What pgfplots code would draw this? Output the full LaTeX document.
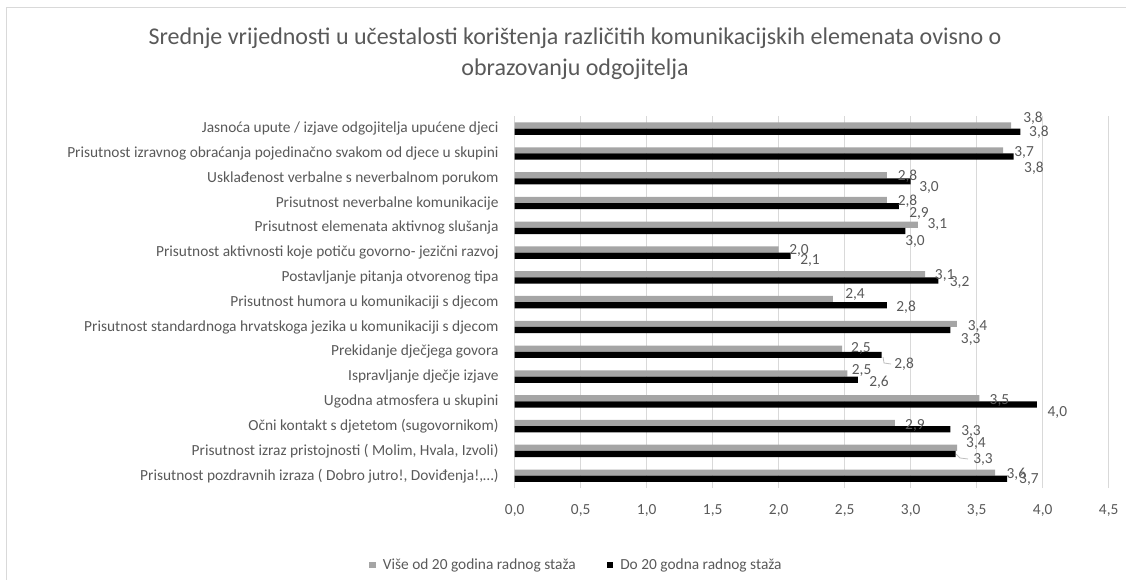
\documentclass[border=0pt]{standalone}
\usepackage{fontspec}
\setmainfont{Carlito}
\usepackage{pgfplots}
\pgfplotsset{compat=1.18}
\usepackage{pgfplotstable}

\definecolor{txt}{HTML}{595959}
\definecolor{barg}{HTML}{A5A5A5}
\definecolor{gridc}{HTML}{D9D9D9}

% y: 14 = top category ... 0 = bottom; dx, dy = label offset (pt)
\pgfplotstableread{
y  v     dx    dy
14 3.76  22.0  7.6
13 3.70  21.0  -2.1
12 2.82  20.6  -0.8
11 2.82  20.6  -1.0
10 3.055 19.4  -0.2
9  2.00  20.3  -1.4
8  3.11  19.5  -0.7
7  2.41  22.2  4.4
6  3.35  20.6  -2.8
5  2.48  18.9  -0.3
4  2.52  14.3  3.0
3  3.52  20.1  -2.2
2  2.88  20.1  -2.4
1  3.352 18.8  4.0
0  3.64  21.2  -1.4
}\vise

\pgfplotstableread{
y  v     dx    dy
14 3.83  18.7  -0.2
13 3.78  20.3  -11.4
12 3.00  18.3  -6.6
11 2.91  20.2  -7.8
10 2.96  9.6   -11.0
9  2.09  19.4  -5.2
8  3.21  21.2  -1.8
7  2.82  19.2  -1.7
6  3.30  20.4  -9.9
5  2.78  22.5  -8.9
4  2.60  21.1  -2.3
3  3.955 20.6  -8.5
2  3.30  20.7  -2.4
1  3.34  27.4  -5.0
0  3.73  21.9  -0.2
}\dodvadeset

\begin{document}
\begin{tikzpicture}[x=1pt,y=1pt]
\useasboundingbox (0,0) rectangle (1126,580);
\draw[gridc, line width=1pt] (6,0) -- (6,572) -- (1126,572);
\node[text=txt, font=\fontsize{24}{28}\selectfont, anchor=base] at (575,535)
  {Srednje vrijednosti u učestalosti korištenja različitih komunikacijskih elemenata ovisno o};
\node[text=txt, font=\fontsize{24}{28}\selectfont, anchor=base] at (575,504)
  {obrazovanju odgojitelja};
% leader lines of two moved labels
\draw[gridc!70!gray, line width=0.8pt] (883,223) -- (884,217) -- (891,216);
\draw[gridc!70!gray, line width=0.8pt] (956,126) -- (960,122) -- (968,121);
\begin{axis}[
    at={(514.7pt,91.9pt)}, anchor=south west,
    width=594pt, height=371.8pt, scale only axis,
    xbar, bar width=6.2pt,
    xmin=0, xmax=4.5, ymin=-0.5, ymax=14.5,
    xtick={0,0.5,1,1.5,2,2.5,3,3.5,4,4.5},
    ytick={0,1,2,3,4,5,6,7,8,9,10,11,12,13,14},
    yticklabels={
      {Prisutnost pozdravnih izraza ( Dobro jutro!, Doviđenja!,\ldots)},
      {Prisutnost izraz pristojnosti ( Molim, Hvala, Izvoli)},
      {Očni kontakt s djetetom (sugovornikom)},
      {Ugodna atmosfera u skupini},
      {Ispravljanje dječje izjave},
      {Prekidanje dječjega govora},
      {Prisutnost standardnoga hrvatskoga jezika u komunikaciji s djecom},
      {Prisutnost humora u komunikaciji s djecom},
      {Postavljanje pitanja otvorenog tipa},
      {Prisutnost aktivnosti koje potiču govorno- jezični razvoj},
      {Prisutnost elemenata aktivnog slušanja},
      {Prisutnost neverbalne komunikacije},
      {Usklađenost verbalne s neverbalnom porukom},
      {Prisutnost izravnog obraćanja pojedinačno svakom od djece u skupini},
      {Jasnoća upute / izjave odgojitelja upućene djeci}},
    axis line style={draw=none},
    major tick length=0pt,
    xmajorgrids, grid style={gridc, line width=1pt},
    tick label style={font=\fontsize{15.4}{17}\selectfont, text=txt},
    yticklabel style={anchor=east, inner sep=0pt, xshift=-16pt},
    xticklabel style={anchor=north, inner sep=0pt, yshift=-16pt},
    clip=false,
    point meta=x,
    nodes near coords={\pgfmathprintnumber{\pgfplotspointmeta}},
    visualization depends on={\thisrow{dx}\as\dx},
    visualization depends on={\thisrow{dy}\as\dy},
    every node near coord/.append style={anchor=center, inner sep=0pt,
      text=txt, font=\fontsize{15.4}{17}\selectfont,
      xshift=\dx pt, yshift=\dy pt},
    legend columns=2,
    legend style={at={(0.104,-0.2068)}, anchor=center, draw=none, fill=none,
      font=\fontsize{15.4}{17}\selectfont, text=txt,
      /tikz/every odd column/.append style={column sep=5pt},
      /tikz/every even column/.append style={column sep=29pt}},
    legend image code/.code={\fill[#1] (0pt,-3.25pt) rectangle (6.5pt,3.25pt);},
    /pgf/number format/fixed,
    /pgf/number format/fixed zerofill,
    /pgf/number format/precision=1,
    /pgf/number format/use comma,
    /pgf/number format/assume math mode=true,
]
\addplot[fill=barg, draw=none, bar shift=3.1pt] table[x=v, y=y] {\vise};
\addplot[fill=black, draw=none, bar shift=-3.1pt] table[x=v, y=y] {\dodvadeset};
\legend{Više od 20 godina radnog staža, Do 20 godna radnog staža}
\end{axis}
\end{tikzpicture}
\end{document}
